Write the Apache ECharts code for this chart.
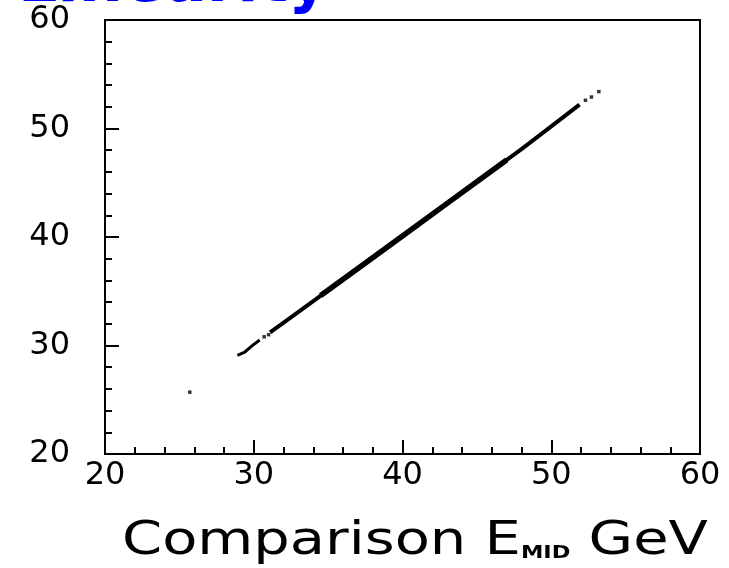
<!DOCTYPE html>
<html><head><meta charset="utf-8">
<script src="https://cdn.jsdelivr.net/npm/echarts@6/dist/echarts.min.js"></script>
<style>html,body{margin:0;padding:0;background:#fff}#c{width:729px;height:568px}</style>
</head><body><div id="c"></div>
<script>
// ---- data ----
const xTicks = [20, 30, 40, 50, 60];
const yTicks = [20, 30, 40, 50, 60];
const titleText = "Linearity";
const xTitleMain = "Comparison E";
const xTitleSub = "MID";
const xTitleUnit = " GeV";
// thin parts of the correlation band (x, y)
const bandThin = [[28.9, 29.1], [29.4, 29.4], [30.0, 30.1], [30.4, 30.5]];
const bandMain = [[31.1, 31.2], [32.5, 32.6], [34.0, 34.1], [36.0, 36.1], [38.0, 38.1], [40.0, 40.1], [42.0, 42.1], [44.0, 44.1], [46.0, 46.1], [48.0, 48.1], [50.0, 50.2], [51.9, 52.2]];
const bandCore = [[34.5, 34.6], [37.0, 37.1], [40.0, 40.1], [43.0, 43.1], [47.0, 47.1]];
const isolated = [[25.7, 25.7], [30.7, 30.8], [31.0, 31.0], [52.3, 52.6], [52.7, 52.9], [53.2, 53.4]];

const chart = echarts.init(document.getElementById('c'));
const axisFont = {fontFamily: 'DejaVu Sans', fontSize: 32, color: '#000'};
chart.setOption({
  animation: false,
  grid: {left: 105, right: 29, top: 20, bottom: 114, show: true, borderColor: '#000', borderWidth: 2},
  xAxis: {
    type: 'value', min: xTicks[0], max: xTicks[xTicks.length - 1], interval: 10,
    splitLine: {show: false},
    axisLine: {lineStyle: {color: '#000', width: 2}},
    axisTick: {inside: true, length: 14, lineStyle: {color: '#000', width: 2}},
    minorTick: {show: true, splitNumber: 5, length: 7, lineStyle: {color: '#000', width: 2}},
    axisLabel: Object.assign({margin: 6}, axisFont)
  },
  yAxis: {
    type: 'value', min: yTicks[0], max: yTicks[yTicks.length - 1], interval: 10,
    splitLine: {show: false},
    axisLine: {lineStyle: {color: '#000', width: 2}},
    axisTick: {inside: true, length: 14, lineStyle: {color: '#000', width: 2}},
    minorTick: {show: true, splitNumber: 5, length: 7, lineStyle: {color: '#000', width: 2}},
    axisLabel: Object.assign({margin: 35}, axisFont)
  },
  series: [
    {type: 'line', data: bandThin, symbol: 'none', lineStyle: {color: '#000', width: 3}},
    {type: 'line', data: bandMain, symbol: 'none', lineStyle: {color: '#000', width: 4}},
    {type: 'line', data: bandCore, symbol: 'none', lineStyle: {color: '#000', width: 5.5}},
    {type: 'scatter', data: isolated, symbol: 'rect', symbolSize: 3.5, itemStyle: {color: '#000'}}
  ],
  graphic: [
    {type: 'text', left: 18, top: -46, style: {text: titleText, fontFamily: 'DejaVu Sans', fontWeight: 'bold', fontSize: 62, fill: '#0000ff'}},
    {type: 'text', x: 122, y: 542, scaleX: 1.25,
     style: {text: '{a|' + xTitleMain + '}{s|' + xTitleSub + '}{a|' + xTitleUnit + '}',
       verticalAlign: 'middle', align: 'left',
       rich: {a: {fontFamily: 'DejaVu Sans', fontSize: 46, fill: '#000'},
              s: {fontFamily: 'DejaVu Sans', fontSize: 18, fontWeight: 'bold', fill: '#000', padding: [22, 0, 0, 0]}}}}
  ]
});
</script></body></html>
